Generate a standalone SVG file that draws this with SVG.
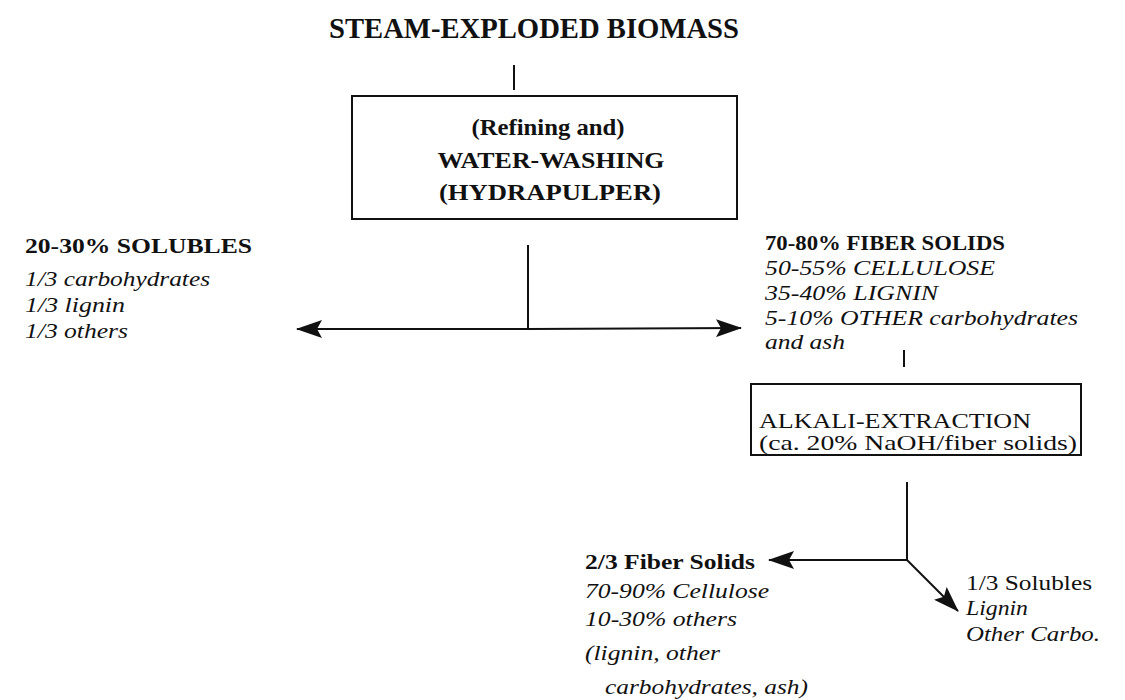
<svg xmlns="http://www.w3.org/2000/svg" width="1125" height="700" viewBox="0 0 1125 700">
<style>
text{font-family:"Liberation Serif","Times New Roman",serif;fill:#111}
.b{font-weight:bold}
.i{font-style:italic}
.t{font-size:30px;font-weight:bold}
.h{font-size:24px;font-weight:bold}
.s{font-size:22px}
.a{font-size:21px}
.ln{stroke:#111;stroke-width:2;fill:none}
.box{stroke:#111;stroke-width:2;fill:#fff}
</style>
<defs>
<marker id="ah" markerWidth="26" markerHeight="18" refX="25" refY="9" orient="auto" markerUnits="userSpaceOnUse">
<path d="M0,0 L26,9 L0,18 L5,9 Z" fill="#111"/>
</marker>
</defs>
<g id="title">
<text class="t" x="329" y="38" textLength="410" lengthAdjust="spacingAndGlyphs">STEAM-EXPLODED BIOMASS</text>
</g>
<g id="water-washing">
<rect class="box" x="352" y="96" width="385" height="123"/>
<text class="h" x="548" y="135" text-anchor="middle" textLength="153" lengthAdjust="spacingAndGlyphs">(Refining and)</text>
<text class="h" x="551" y="168" text-anchor="middle" textLength="227" lengthAdjust="spacingAndGlyphs">WATER-WASHING</text>
<text class="h" x="550" y="200" text-anchor="middle" textLength="222" lengthAdjust="spacingAndGlyphs">(HYDRAPULPER)</text>
</g>
<g id="solubles">
<text class="s b" x="25" y="253" textLength="227" lengthAdjust="spacingAndGlyphs">20-30% SOLUBLES</text>
<text class="s i" x="25" y="286" textLength="185" lengthAdjust="spacingAndGlyphs">1/3 carbohydrates</text>
<text class="s i" x="25" y="312" textLength="100" lengthAdjust="spacingAndGlyphs">1/3 lignin</text>
<text class="s i" x="25" y="338" textLength="103" lengthAdjust="spacingAndGlyphs">1/3 others</text>
</g>
<g id="fiber-solids">
<text class="s b" x="765" y="250" textLength="240" lengthAdjust="spacingAndGlyphs">70-80% FIBER SOLIDS</text>
<text class="s i" x="765" y="275" textLength="230" lengthAdjust="spacingAndGlyphs">50-55% CELLULOSE</text>
<text class="s i" x="765" y="300" textLength="173" lengthAdjust="spacingAndGlyphs">35-40% LIGNIN</text>
<text class="s i" x="765" y="325" textLength="313" lengthAdjust="spacingAndGlyphs">5-10% OTHER carbohydrates</text>
<text class="s i" x="765" y="349" textLength="80" lengthAdjust="spacingAndGlyphs">and ash</text>
</g>
<g id="alkali-extraction">
<rect class="box" x="751" y="384" width="330" height="71"/>
<text class="a" x="759" y="428" textLength="272" lengthAdjust="spacingAndGlyphs">ALKALI-EXTRACTION</text>
<text class="a" x="759" y="450" textLength="318" lengthAdjust="spacingAndGlyphs">(ca. 20% NaOH/fiber solids)</text>
</g>
<g id="fiber-solids-2">
<text class="s b" x="585" y="569" textLength="170" lengthAdjust="spacingAndGlyphs">2/3 Fiber Solids</text>
<text class="s i" x="585" y="598" textLength="184" lengthAdjust="spacingAndGlyphs">70-90% Cellulose</text>
<text class="s i" x="585" y="626" textLength="152" lengthAdjust="spacingAndGlyphs">10-30% others</text>
<text class="s i" x="585" y="660" textLength="135" lengthAdjust="spacingAndGlyphs">(lignin, other</text>
<text class="s i" x="605" y="694" textLength="203" lengthAdjust="spacingAndGlyphs">carbohydrates, ash)</text>
</g>
<g id="solubles-2">
<text class="s" x="966" y="590" textLength="126" lengthAdjust="spacingAndGlyphs">1/3 Solubles</text>
<text class="s i" x="966" y="615" textLength="62" lengthAdjust="spacingAndGlyphs">Lignin</text>
<text class="s i" x="966" y="641" textLength="134" lengthAdjust="spacingAndGlyphs">Other Carbo.</text>
</g>
<g id="connectors">
<line class="ln" x1="514" y1="65" x2="514" y2="90"/>
<line class="ln" x1="528" y1="245" x2="528" y2="329"/>
<line class="ln" x1="528" y1="329" x2="297" y2="329" marker-end="url(#ah)"/>
<line class="ln" x1="528" y1="329" x2="741" y2="328" marker-end="url(#ah)"/>
<line class="ln" x1="904" y1="350" x2="904" y2="367"/>
<line class="ln" x1="907" y1="482" x2="907" y2="560"/>
<line class="ln" x1="907" y1="560" x2="769" y2="560" marker-end="url(#ah)"/>
<line class="ln" x1="907" y1="560" x2="958" y2="611" marker-end="url(#ah)"/>
</g>
</svg>
